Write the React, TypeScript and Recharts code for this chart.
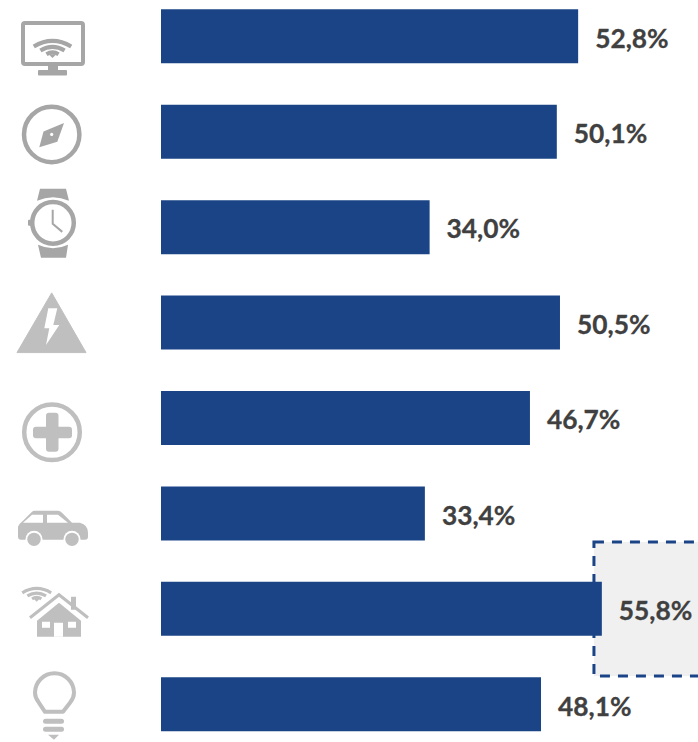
import { BarChart, Bar, XAxis, YAxis, LabelList, ReferenceArea } from "recharts";

const categories = ["monitor", "compass", "watch", "warning", "health", "car", "home", "bulb"];
const shares = [52.8, 50.1, 34.0, 50.5, 46.7, 33.4, 55.8, 48.1];
const highlightCategory = "home";
const highlightStart = 54.8;
const axisMax = 67.97;

const data = categories.map((name, i) => ({ name, share: shares[i] }));

const DARK = "#a6a6a6";
const LIGHT = "#bfbfbf";
const BLUE = "#1b4487";

function Wifi({ x, y, s, color }: { x: number; y: number; s: number; color: string }) {
  // arcs drawn around the signal's bottom tip
  const arc = (r: number) =>
    `M${x - r * s} ${y - r * s * 0.62} Q${x} ${y - r * s * 1.22} ${x + r * s} ${y - r * s * 0.62}`;
  return (
    <g fill="none" stroke={color} strokeWidth={3.8 * s}>
      <path d={arc(17)} />
      <path d={arc(11)} />
      <path d={arc(5.5)} />
      <path d={`M${x - 3.5 * s} ${y - 3.5 * s}L${x} ${y}L${x + 3.5 * s} ${y - 3.5 * s}Z`} fill={color} stroke="none" />
    </g>
  );
}

// icons are drawn in picture coordinates, shifted by the centre of their row
const icons: Record<string, { center: number; draw: React.ReactNode }> = {
  monitor: {
    center: 36,
    draw: (
      <g>
        <rect x={23} y={23} width={60} height={41} rx={2} fill="none" stroke={DARK} strokeWidth={4} />
        <rect x={48} y={65} width={10} height={6} fill={DARK} />
        <rect x={38} y={70} width={29} height={5.5} rx={1} fill={DARK} />
        <Wifi x={52.5} y={58} s={1.1} color={DARK} />
      </g>
    ),
  },
  compass: {
    center: 131.5,
    draw: (
      <g>
        <circle cx={51.7} cy={134.5} r={27.7} fill="none" stroke={DARK} strokeWidth={4.5} />
        <path d="M64 123L57.3 141.7L39.3 147.3L43.5 131.6Z" fill={DARK} />
        <circle cx={51.7} cy={134.5} r={1.6} fill="#fff" />
      </g>
    ),
  },
  watch: {
    center: 227,
    draw: (
      <g>
        <path d="M40 189H66L69 201Q53 194 37 201Z" fill={DARK} />
        <path d="M38 245Q53 252 68 245L66 258H41Z" fill={DARK} />
        <circle cx={53} cy={223} r={20.8} fill="none" stroke={DARK} strokeWidth={4.5} />
        <rect x={28} y={220} width={4} height={6} rx={1} fill={DARK} />
        <path d="M52.7 210V224L62.3 232" fill="none" stroke={DARK} strokeWidth={2} />
      </g>
    ),
  },
  warning: {
    center: 322.4,
    draw: (
      <g>
        <path d="M51.7 293L86 352.7H17Z" fill={LIGHT} stroke={LIGHT} strokeWidth={1} strokeLinejoin="round" />
        <path d="M48.3 308.3H57.3L53.3 325H59.3L46 345L49.3 328.3H44.3Z" fill="#fff" />
      </g>
    ),
  },
  health: {
    center: 417.9,
    draw: (
      <g>
        <circle cx={52} cy={432.5} r={27.8} fill="none" stroke={LIGHT} strokeWidth={4.5} />
        <rect x={33} y={427} width={39} height={11.5} rx={3} fill={LIGHT} />
        <rect x={46} y={413} width={12.5} height={39} rx={3} fill={LIGHT} />
      </g>
    ),
  },
  car: {
    center: 513.3,
    draw: (
      <g>
        <path
          d="M18 527Q19 524 23 521L32 512Q33 511 35 511H58Q60 511 62 513L72 523H80Q88 525 88 533V537Q88 540 85 540H21Q18 540 18 537Z"
          fill={LIGHT}
        />
        <path d="M23 523L32 515H43V523Z" fill="#fff" />
        <path d="M47 515H58L68 523H47Z" fill="#fff" />
        <circle cx={34} cy={539.5} r={8.5} fill="#fff" />
        <circle cx={72} cy={539.5} r={8.5} fill="#fff" />
        <circle cx={34} cy={539.5} r={6.7} fill={LIGHT} />
        <circle cx={72} cy={539.5} r={6.7} fill={LIGHT} />
      </g>
    ),
  },
  home: {
    center: 608.8,
    draw: (
      <g>
        <Wifi x={36.7} y={602} s={0.85} color={LIGHT} />
        <path d="M59 603L81 621V637H37V621Z" fill={LIGHT} />
        <path d="M30 618L59 595L88 618" fill="none" stroke={LIGHT} strokeWidth={3} />
        <rect x={71} y={597} width={5} height={13} fill={LIGHT} />
        <rect x={54} y={623} width={9} height={14} fill="#fff" />
        <rect x={42} y={622} width={8} height={6} fill="#fff" />
        <rect x={68} y={622} width={8} height={6} fill="#fff" />
      </g>
    ),
  },
  bulb: {
    center: 704.2,
    draw: (
      <g>
        <path
          d="M45 712L39 703Q35 698 35 693A19.5 19.5 0 0 1 74 693Q74 698 70 703L63 712Z"
          fill="none"
          stroke={LIGHT}
          strokeWidth={4}
          strokeLinejoin="round"
        />
        <rect x={43} y={719} width={21} height={5} rx={2.5} fill={LIGHT} />
        <rect x={43} y={727} width={21} height={5} rx={2.5} fill={LIGHT} />
        <path d="M48 735H59L54 740Z" fill={LIGHT} />
      </g>
    ),
  },
};

function IconTick({ y, payload }: any) {
  const icon = icons[payload.value];
  return <g transform={`translate(0 ${y - icon.center})`}>{icon.draw}</g>;
}

function HighlightBox({ x, y, height }: any) {
  const mid = y + height / 2;
  return (
    <rect
      x={x}
      y={mid - 66.5}
      width={130}
      height={134}
      fill="#f0f0f0"
      stroke={BLUE}
      strokeWidth={3}
      strokeDasharray="10 8"
    />
  );
}

const CHART_TOP = -12;

export default function App() {
  return (
    <div style={{ position: "absolute", left: 0, top: 0, width: 698, height: 742, overflow: "hidden", background: "#fff" }}>
      <div style={{ position: "absolute", left: 0, top: CHART_TOP }}>
        <BarChart
          width={698}
          height={776}
          data={data}
          layout="vertical"
          barSize={54}
          margin={{ top: 0.3, right: 0, bottom: 12.3, left: 0 }}
        >
          <XAxis type="number" domain={[0, axisMax]} hide />
          <YAxis
            type="category"
            dataKey="name"
            width={161}
            axisLine={false}
            tickLine={false}
            interval={0}
            tick={<IconTick />}
          />
          <ReferenceArea
            x1={highlightStart}
            x2={axisMax}
            y1={highlightCategory}
            y2={highlightCategory}
            ifOverflow="visible"
            shape={<HighlightBox />}
          />
          <Bar dataKey="share" fill={BLUE} isAnimationActive={false}>
            <LabelList
              dataKey="share"
              position="right"
              offset={17}
              dy={2}
              formatter={(v: number) => v.toFixed(1).replace(".", ",") + "%"}
              style={{ fontFamily: "Lato", fontWeight: 700, fontSize: 26.3, fill: "#404040", stroke: "#404040", strokeWidth: 0.3 }}
            />
          </Bar>
        </BarChart>
      </div>
    </div>
  );
}
